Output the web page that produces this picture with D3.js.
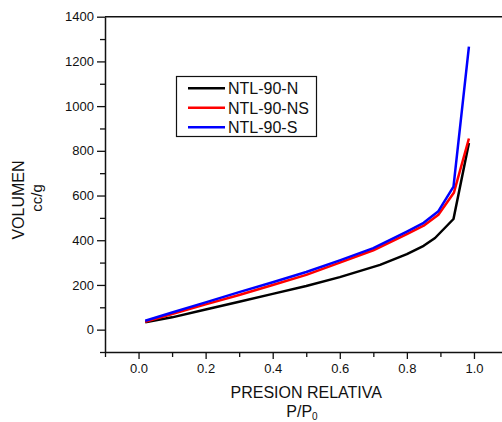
<!DOCTYPE html>
<html>
<head>
<meta charset="utf-8">
<script src="https://cdn.jsdelivr.net/npm/d3@7"></script>
<style>
  body { margin: 0; background: #fff; overflow: hidden; }
  svg { display: block; font-family: "Liberation Sans", Arial, sans-serif; }
</style>
</head>
<body>
<svg id="chart" width="502" height="422"></svg>
<script>
// relative pressure points for each sample
const pN  = [0.02, 0.1, 0.2, 0.3, 0.4, 0.5, 0.6, 0.72, 0.8, 0.85, 0.884, 0.939, 0.985];
const vN  = [33, 55, 90, 125, 160, 195, 235, 290, 338, 375, 410, 495, 835];
const pNS = [0.02, 0.1, 0.2, 0.3, 0.4, 0.5, 0.6, 0.7, 0.8, 0.85, 0.894, 0.94, 0.985];
const vNS = [35, 70, 113, 155, 200, 245, 300, 355, 427, 465, 514, 612, 855];
const pS  = [0.02, 0.1, 0.2, 0.3, 0.4, 0.5, 0.6, 0.7, 0.8, 0.85, 0.894, 0.939, 0.985];
const vS  = [40, 77, 122, 168, 212, 258, 310, 365, 439, 478, 530, 640, 1266];

const seriesNames = ["NTL-90-N", "NTL-90-NS", "NTL-90-S"];
const seriesColors = ["#000000", "#ff0000", "#0000ff"];

const xTicks = [0.0, 0.2, 0.4, 0.6, 0.8, 1.0];
const xMinor = [-0.1, 0.1, 0.3, 0.5, 0.7, 0.9];
const yTicks = [0, 200, 400, 600, 800, 1000, 1200, 1400];
const yMinor = [-100, 100, 300, 500, 700, 900, 1100, 1300];

const series = [
  pN.map((p, i) => ({ p: p, v: vN[i] })),
  pNS.map((p, i) => ({ p: p, v: vNS[i] })),
  pS.map((p, i) => ({ p: p, v: vS[i] }))
];

const plotLeft = 105, plotRight = 507.5, plotTop = 16.7, plotBottom = 352;

const svg = d3.select("#chart");

const x = d3.scaleLinear().domain([-0.1, 1.1]).range([plotLeft, plotRight]);
const y = d3.scaleLinear().domain([-100, 1400]).range([plotBottom, plotTop]);

// minor ticks
svg.append("g")
  .attr("transform", `translate(${plotLeft},0)`)
  .call(d3.axisLeft(y).tickValues(yMinor).tickSize(5).tickFormat(""))
  .call(g => g.select(".domain").remove());
svg.append("g")
  .attr("transform", `translate(0,${plotBottom})`)
  .call(d3.axisBottom(x).tickValues(xMinor).tickSize(5).tickFormat(""))
  .call(g => g.select(".domain").remove());

// major axes
const yAxis = svg.append("g")
  .attr("transform", `translate(${plotLeft},0)`)
  .call(d3.axisLeft(y).tickValues(yTicks).tickSize(8).tickPadding(3).tickSizeOuter(0).tickFormat(d3.format("d")));
const xAxis = svg.append("g")
  .attr("transform", `translate(0,${plotBottom})`)
  .call(d3.axisBottom(x).tickValues(xTicks).tickSize(7).tickPadding(5).tickSizeOuter(0).tickFormat(d3.format(".1f")));

[yAxis, xAxis].forEach(g => {
  g.selectAll("text").attr("font-size", 13).attr("fill", "#111").attr("font-family", "Liberation Sans, Arial, sans-serif");
});
svg.selectAll(".tick line").attr("stroke", "#111").attr("stroke-width", 1.3);
svg.selectAll(".domain").attr("stroke", "#111").attr("stroke-width", 1.5);

// top frame line
svg.append("line")
  .attr("x1", plotLeft).attr("x2", plotRight)
  .attr("y1", plotTop).attr("y2", plotTop)
  .attr("stroke", "#111").attr("stroke-width", 1.5);

// curves
const line = d3.line().x(d => x(d.p)).y(d => y(d.v));
series.forEach((s, i) => {
  svg.append("path")
    .datum(s)
    .attr("fill", "none")
    .attr("stroke", seriesColors[i])
    .attr("stroke-width", 2.5)
    .attr("stroke-linejoin", "round")
    .attr("d", line);
});

// legend
const lg = svg.append("g");
lg.append("rect")
  .attr("x", 176.5).attr("y", 76.5).attr("width", 140).attr("height", 60)
  .attr("fill", "#fff").attr("stroke", "#111").attr("stroke-width", 1.2);
seriesNames.forEach((name, i) => {
  const yy = 88.3 + i * 19.5;
  lg.append("line")
    .attr("x1", 188).attr("x2", 225).attr("y1", yy).attr("y2", yy)
    .attr("stroke", seriesColors[i]).attr("stroke-width", 2.5);
  lg.append("text")
    .attr("x", 228).attr("y", yy + 5.8)
    .attr("font-size", 16).attr("fill", "#111")
    .text(name);
});

// axis titles
svg.append("text")
  .attr("x", (plotLeft + plotRight) / 2).attr("y", 398.3)
  .attr("text-anchor", "middle").attr("font-size", 16).attr("fill", "#111")
  .text("PRESION RELATIVA");
const pp = svg.append("text")
  .attr("x", 302).attr("y", 417)
  .attr("text-anchor", "middle").attr("font-size", 16).attr("fill", "#111");
pp.append("tspan").text("P/P");
pp.append("tspan").attr("font-size", 10).attr("dy", 3).text("0");

svg.append("text")
  .attr("transform", "translate(23.5,200) rotate(-90)")
  .attr("text-anchor", "middle").attr("font-size", 16).attr("fill", "#111")
  .text("VOLUMEN");
svg.append("text")
  .attr("transform", "translate(42,198) rotate(-90)")
  .attr("text-anchor", "middle").attr("font-size", 15).attr("fill", "#111")
  .text("cc/g");
</script>
</body>
</html>
